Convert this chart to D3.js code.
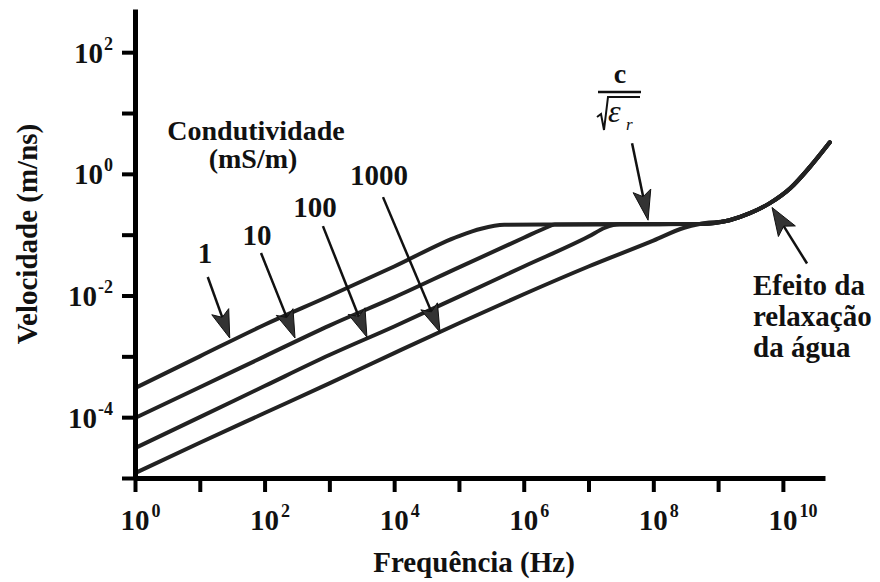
<!DOCTYPE html>
<html>
<head>
<meta charset="utf-8">
<script src="https://cdn.jsdelivr.net/npm/d3@7"></script>
<style>
  body { margin: 0; background: #fff; }
  text { font-family: "Liberation Serif", "Times New Roman", serif; font-weight: bold; fill: #111; }
</style>
</head>
<body>
<script>
var width = 880;
var height = 582;

// ticks (exponents of 10)
var xTickExp = [0, 1, 2, 3, 4, 5, 6, 7, 8, 9, 10];
var xLabelExp = [0, 2, 4, 6, 8, 10];
var yTickExp = [-5, -4, -3, -2, -1, 0, 1, 2];
var yLabelExp = [-4, -2, 0, 2];

// curves: [frequency Hz, velocity m/ns]
var conductivities = ['1', '10', '100', '1000'];
var sigma1 = [[1, 3.0e-4], [10, 1.0e-3], [100, 3.3e-3], [1e3, 9.8e-3], [1e4, 3.0e-2], [1e5, 9.5e-2], [2.2e5, 0.125]];
var sigma10 = [[1, 9.7e-5], [10, 3.1e-4], [100, 1.0e-3], [1e3, 3.2e-3], [1e4, 9.3e-3], [1e5, 2.9e-2], [1e6, 8.9e-2], [2.2e6, 0.13]];
var sigma100 = [[1, 3.1e-5], [10, 1.0e-4], [100, 3.25e-4], [1e3, 1.05e-3], [1e4, 3.1e-3], [1e5, 9.6e-3], [1e6, 3.0e-2], [1e7, 9.3e-2], [1.8e7, 0.13]];
var sigma1000 = [[1, 1.2e-5], [10, 3.8e-5], [100, 1.17e-4], [1e3, 3.6e-4], [1e4, 1.13e-3], [1e5, 3.5e-3], [1e6, 1.05e-2], [1e7, 3.0e-2], [1e8, 8.0e-2], [3.0e8, 0.13]];
// shared high frequency part (c / sqrt(er) plateau + water relaxation)
var plateau = [[5e5, 0.145], [3e6, 0.147], [3e7, 0.148], [5.2e8, 0.15], [1.5e9, 0.173], [3.1e9, 0.226], [6.3e9, 0.33], [1.3e10, 0.58], [2.6e10, 1.29], [5.3e10, 3.3]];

// arrow tips on the curves [frequency, velocity]
var sigmaTips = [[29, 2.0e-3], [295, 2.0e-3], [3800, 2.07e-3], [5.1e4, 2.5e-3]];
var cTip = [8.3e7, 0.173];
var relaxTip = [6.8e9, 0.28];

var x = d3.scaleLog().domain([1, Math.pow(10, 10.65)]).range([135, 825]);
var y = d3.scaleLog().domain([1e-5, Math.pow(10, 2.71)]).range([478, 9]);

var svg = d3.select('body')
  .append('svg')
  .attr('width', width)
  .attr('height', height);

// curves
var line = d3.line()
  .x(function (d) { return x(d[0]); })
  .y(function (d) { return y(d[1]); })
  .curve(d3.curveMonotoneX);

var series = [sigma1, sigma10, sigma100, sigma1000];
series.forEach(function (s) {
  var last = s[s.length - 1][0];
  var pts = s.concat(plateau.filter(function (p) { return p[0] > last; }));
  svg.append('path')
    .attr('d', line(pts))
    .style('fill', 'none')
    .style('stroke', '#222')
    .style('stroke-width', 4)
    .style('stroke-linecap', 'round');
});

// axes
var xAxis = svg.append('g')
  .attr('transform', 'translate(0,' + y(1e-5) + ')')
  .call(d3.axisBottom(x)
    .tickValues(xTickExp.map(function (e) { return Math.pow(10, e); }))
    .tickSize(14)
    .tickSizeOuter(0)
    .tickFormat(''));

var yAxis = svg.append('g')
  .attr('transform', 'translate(' + x(1) + ',0)')
  .call(d3.axisLeft(y)
    .tickValues(yTickExp.map(function (e) { return Math.pow(10, e); }))
    .tickSize(13)
    .tickSizeOuter(0)
    .tickFormat(''));

svg.selectAll('.domain').style('stroke', '#000').style('stroke-width', 5);
svg.selectAll('.tick line').style('stroke', '#000').style('stroke-width', 4);

// tick labels 10^n
xAxis.selectAll('.tick text')
  .each(function (d) {
    var e = Math.round(Math.log10(d));
    var t = d3.select(this).attr('y', 52).attr('dy', null).attr('x', -15)
      .attr('text-anchor', 'start').style('font-size', '29px').text(null);
    if (xLabelExp.indexOf(e) < 0) return;
    t.append('tspan').text('10');
    t.append('tspan').attr('dx', 2).attr('dy', -13).style('font-size', '18px').text(e);
  });

yAxis.selectAll('.tick text')
  .each(function (d) {
    var e = Math.round(Math.log10(d));
    var t = d3.select(this).attr('y', 10).attr('dy', null).attr('x', -22)
      .attr('text-anchor', 'end').style('font-size', '29px').text(null);
    if (yLabelExp.indexOf(e) < 0) return;
    t.append('tspan').text('10');
    t.append('tspan').attr('dx', 1).attr('dy', -13).style('font-size', '18px').text(e < 0 ? '-' + (-e) : e);
  });

// axis titles
svg.append('text')
  .attr('x', 474).attr('y', 572)
  .attr('text-anchor', 'middle')
  .style('font-size', '29px')
  .text('Frequência (Hz)');

svg.append('text')
  .attr('transform', 'translate(37,234) rotate(-90)')
  .attr('text-anchor', 'middle')
  .style('font-size', '29px')
  .text('Velocidade (m/ns)');

// arrows
function arrow(tip, tail, len, half) {
  var ang = Math.atan2(tip[1] - tail[1], tip[0] - tail[0]);
  var c = Math.cos(ang), s = Math.sin(ang);
  function pt(a, b) { return [tip[0] + a * c - b * s, tip[1] + a * s + b * c]; }
  var base = pt(-len + 6, 0);
  svg.append('line')
    .attr('x1', tail[0]).attr('y1', tail[1])
    .attr('x2', base[0]).attr('y2', base[1])
    .style('stroke', '#111')
    .style('stroke-width', 2.5);
  svg.append('polygon')
    .attr('points', [pt(0, 0), pt(-len, -half), pt(-len + 6, 0), pt(-len, half)].join(' '))
    .style('fill', '#333')
    .style('stroke', '#111')
    .style('stroke-width', 1);
}

var sigmaTails = [[-22, -61], [-34, -85], [-44, -111], [-57, -135]];
var sigmaLabelPos = [[205, 263], [257, 245], [315, 217], [379, 185]];
sigmaTips.forEach(function (d, i) {
  var tip = [x(d[0]), y(d[1])];
  arrow(tip, [tip[0] + sigmaTails[i][0], tip[1] + sigmaTails[i][1]], 28, 9);
  svg.append('text')
    .attr('x', sigmaLabelPos[i][0]).attr('y', sigmaLabelPos[i][1])
    .attr('text-anchor', 'middle')
    .style('font-size', '29px')
    .text(conductivities[i]);
});

svg.append('text')
  .attr('x', 256).attr('y', 140)
  .attr('text-anchor', 'middle')
  .style('font-size', '28px')
  .text('Condutividade');
svg.append('text')
  .attr('x', 253).attr('y', 168)
  .attr('text-anchor', 'middle')
  .style('font-size', '28px')
  .text('(mS/m)');

// c / sqrt(er)
var ct = [x(cTip[0]), y(cTip[1])];
arrow(ct, [ct[0] - 16, ct[1] - 77], 30, 9);
svg.append('text')
  .attr('x', 620).attr('y', 83)
  .attr('text-anchor', 'middle')
  .style('font-size', '28px')
  .text('c');
svg.append('line')
  .attr('x1', 598).attr('x2', 641).attr('y1', 92).attr('y2', 92)
  .style('stroke', '#111').style('stroke-width', 2.5);
svg.append('path')
  .attr('d', 'M597,117 L601,114 L604,130 L608,97 L640,97')
  .style('fill', 'none').style('stroke', '#111').style('stroke-width', 2);
svg.append('text')
  .attr('x', 608).attr('y', 122)
  .style('font-size', '32px').style('font-style', 'italic').style('font-weight', 'normal')
  .text('ε');
svg.append('text')
  .attr('x', 626).attr('y', 130)
  .style('font-size', '17px').style('font-style', 'italic').style('font-weight', 'normal')
  .text('r');

// water relaxation
var rt = [x(relaxTip[0]), y(relaxTip[1])];
arrow(rt, [rt[0] + 35, rt[1] + 56], 28, 10);
['Efeito da', 'relaxação', 'da água'].forEach(function (s, i) {
  svg.append('text')
    .attr('x', 753).attr('y', 295 + i * 31)
    .style('font-size', '29px')
    .text(s);
});
</script>
</body>
</html>
